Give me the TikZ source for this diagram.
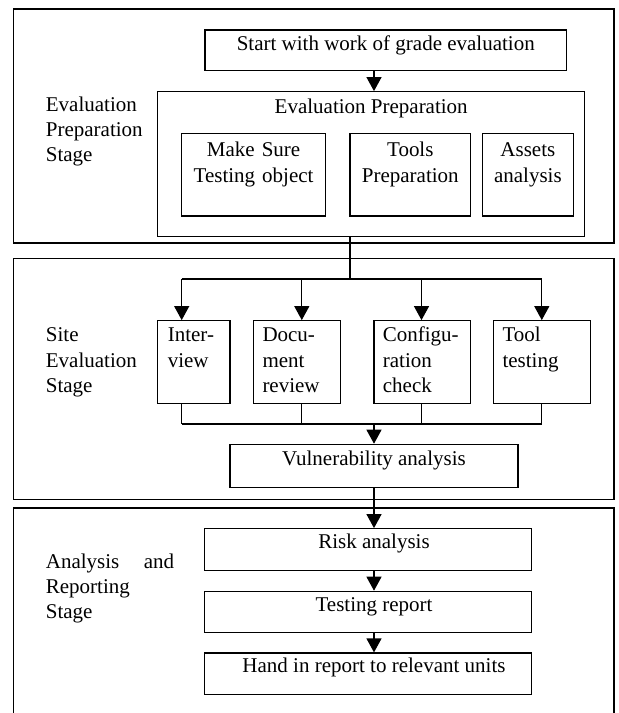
\documentclass[tikz,border=0pt]{standalone}
\usepackage{fontspec}
\setmainfont{Liberation Serif}
\usetikzlibrary{arrows.meta,fit}
\begin{document}
\begin{tikzpicture}[x=1pt,y=-1pt,
  stage/.style={draw, line width=1.6pt, inner sep=0pt},
  box/.style={draw, line width=1.2pt, inner sep=0pt},
  txt/.style={font=\fontsize{21}{25.3}\selectfont, inner sep=0pt, anchor=base},
  ltxt/.style={txt, anchor=base west, align=left},
  ctxt/.style={txt, execute at begin node=\centering},
  arr/.style={line width=1.2pt, -{Triangle[width=15pt,length=14pt]}},
  ln/.style={line width=1.2pt}]
\useasboundingbox (0,0) rectangle (619,713);
\begin{scope}
\clip (0,0) rectangle (619,713);
% stage frames
\node[stage, fit={(13.3,9) (614,242.7)}] (s1) {};
\node[stage, fit={(13.3,258.3) (614,499.5)}] (s2) {};
\node[stage, fit={(13.3,507.7) (614,740)}] (s3) {};
\end{scope}
% stage labels
\node[ltxt, text width=110pt] (l1) at (45.7,111) {Evaluation\\Preparation\\Stage};
\node[ltxt, text width=110pt] (l2) at (45.7,341.7) {Site\\Evaluation\\Stage};
\node[ltxt, text width=130pt] (l3) at (45.7,568.3) {\makebox[128.3pt][s]{Analysis\hfill and}\\Reporting\\Stage};
% stage 1
\node[box, fit={(205,30) (566.7,70.7)}] (start) {};
\node[txt] (startt) at (385.8,50) {Start with work of grade evaluation};
\node[box, fit={(157.7,91.7) (584.7,236.7)}] (ep) {};
\node[txt] (ept) at (371.2,113) {Evaluation Preparation};
\node[box, fit={(181.5,133.3) (325.8,216)}] (ms) {};
\node[ctxt, text width=140pt] (mst) at (253.6,156.7) {Make Sure\\Testing object\par};
\node[box, fit={(350,133.3) (470.7,216)}] (tp) {};
\node[ctxt, text width=118pt] (tpt) at (410.3,156.7) {Tools\\Preparation\par};
\node[box, fit={(482.5,133.3) (573.3,216)}] (aa) {};
\node[ctxt, text width=88pt] (aat) at (527.9,156.7) {Assets\\analysis\par};
\coordinate (c0) at (374,0);
\draw[arr] (start.south -| c0) -- (ep.north -| c0);
% stage 2
\node[box, fit={(157.7,320.7) (229.9,403.3)}] (iv) {};
\node[box, fit={(253.6,320.7) (340.6,403.3)}] (dr) {};
\node[box, fit={(374,320.7) (470.7,403.3)}] (cc) {};
\node[box, fit={(493.5,320.7) (590.7,403.3)}] (tt) {};
\node[ltxt, text width=70pt] (ivt) at (167.6,341.7) {Inter-\\view};
\node[ltxt, text width=80pt] (drt) at (262.3,341.7) {Docu-\\ment\\review};
\node[ltxt, text width=90pt] (cct) at (382.7,341.7) {Configu-\\ration\\check};
\node[ltxt, text width=90pt] (ttt) at (502.3,341.7) {Tool\\testing};
\coordinate (tr) at (350,279);
\coordinate (a1) at (181.7,279);
\coordinate (a2) at (301.8,279);
\coordinate (a3) at (421.5,279);
\coordinate (a4) at (541.8,279);
\draw[ln] (ep.south -| tr) -- (tr);
\draw[ln] (a1) -- (a4);
\draw[arr] (a1) -- (a1 |- iv.north);
\draw[arr] (a2) -- (a2 |- dr.north);
\draw[arr] (a3) -- (a3 |- cc.north);
\draw[arr] (a4) -- (a4 |- tt.north);
\coordinate (m1) at (181.7,424);
\coordinate (m2) at (301.8,424);
\coordinate (m3) at (421.5,424);
\coordinate (m4) at (541.8,424);
\coordinate (mc) at (374,424);
\draw[ln] (iv.south -| m1) -- (m1);
\draw[ln] (dr.south -| m2) -- (m2);
\draw[ln] (cc.south -| m3) -- (m3);
\draw[ln] (tt.south -| m4) -- (m4);
\draw[ln] (m1) -- (m4);
\node[box, fit={(230,444.3) (518,487.3)}] (va) {};
\node[txt] (vat) at (374,465) {Vulnerability analysis};
\draw[arr] (mc) -- (va.north -| mc);
% stage 3
\node[box, fit={(204.8,528.7) (531.3,570.3)}] (ra) {};
\node[txt] (rat) at (374,548.3) {Risk analysis};
\node[box, fit={(204.8,591.3) (531.3,632.3)}] (rep) {};
\node[txt] (rept) at (374,611.3) {Testing report};
\node[box, fit={(204.8,653) (531.3,694.7)}] (hi) {};
\node[txt] (hit) at (374,672.3) {Hand in report to relevant units};
\draw[arr] (va.south -| mc) -- (ra.north -| mc);
\draw[arr] (ra.south -| mc) -- (rep.north -| mc);
\draw[arr] (rep.south -| mc) -- (hi.north -| mc);
\end{tikzpicture}
\end{document}
